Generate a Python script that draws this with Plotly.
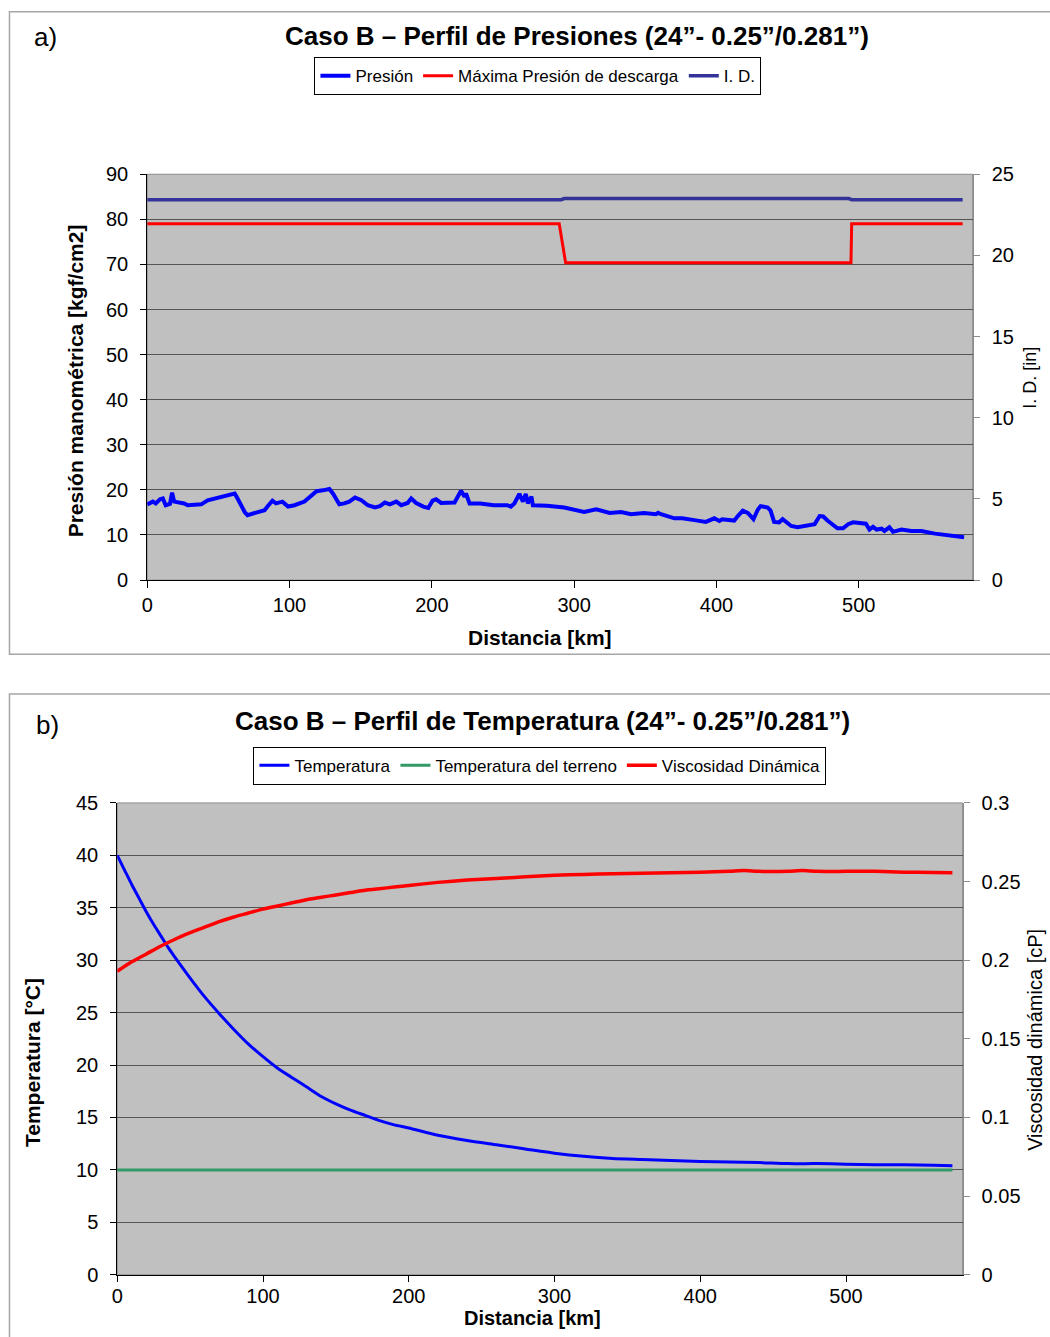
import plotly.graph_objects as go

# ---------------- Panel a) pressure profile ----------------
press_km = [0, 4, 6, 9, 11, 13, 16, 17.5, 19, 26, 28.5, 38, 42.5, 49.5, 59, 61.5, 63.5, 66, 68.5, 70.5,
            75.5, 82.5, 84.5, 86, 88, 90.5, 95, 99, 103.5, 110.5, 114, 119, 123.5, 128, 130.5, 135,
            138.5, 142, 146, 150.5, 155, 160, 163.5, 167, 170.5, 175, 178.5, 183, 185.5, 189, 194,
            197.5, 200.5, 203, 206.5, 216, 220.5, 223, 224, 226.5, 234, 243.5, 253, 255.5, 258,
            261.5, 264, 266, 267.5, 270, 271, 281, 293, 300, 307, 315.5, 325, 333, 340, 349, 357.5,
            359, 361, 370.5, 376, 384.5, 392.5, 398.5, 402, 404, 412.5, 415, 418.5, 422, 426, 429,
            431, 436, 438, 440.5, 444, 446.5, 452.5, 457, 464, 469, 472.5, 475, 478, 485, 489, 492.5,
            496, 505, 507.5, 510, 512.5, 516, 518, 521.5, 524, 530, 537, 544, 553.5, 563, 574]
press_val = [16.8, 17.4, 17.0, 17.9, 18.1, 16.6, 16.9, 19.4, 17.4, 17.0, 16.6, 16.8, 17.7, 18.3, 18.9,
             19.2, 18.1, 16.6, 15.1, 14.4, 14.9, 15.5, 16.3, 17.0, 17.6, 17.0, 17.4, 16.3, 16.6, 17.4,
             18.3, 19.7, 19.9, 20.2, 19.2, 16.8, 17.0, 17.4, 18.3, 17.7, 16.6, 16.1, 16.4, 17.2, 16.8,
             17.4, 16.6, 17.1, 18.1, 17.1, 16.3, 16.0, 17.6, 17.9, 17.1, 17.2, 19.8, 18.5, 19.2, 17.0,
             17.0, 16.6, 16.6, 16.3, 17.0, 19.1, 17.4, 19.1, 17.0, 18.5, 16.6, 16.5, 16.1, 15.7, 15.1,
             15.7, 14.9, 15.1, 14.6, 14.9, 14.6, 14.9, 14.6, 13.7, 13.7, 13.3, 12.9, 13.7, 13.1, 13.5,
             13.2, 14.2, 15.4, 14.9, 13.5, 15.6, 16.4, 16.1, 15.4, 12.9, 12.8, 13.5, 12.0, 11.7, 12.0,
             12.4, 14.2, 14.1, 13.2, 11.5, 11.5, 12.4, 12.8, 12.5, 11.2, 11.8, 11.2, 11.4, 10.9, 11.7,
             10.7, 11.2, 10.9, 10.9, 10.3, 9.9, 9.5]

maop_km = [0, 289.5, 294, 494.5, 495, 573]
maop_val = [79.0, 79.0, 70.4, 70.4, 79.0, 79.0]

id_km = [0, 291, 293, 493, 495, 573]
id_val = [23.438, 23.438, 23.5, 23.5, 23.438, 23.438]

# ---------------- Panel b) temperature profile ----------------
temp_km = [0, 5, 10, 15, 20, 25, 30, 35, 40, 50, 60, 70, 80, 90, 100, 110, 120, 130, 140, 150, 160,
           170, 180, 190, 200, 220, 240, 260, 280, 300, 320, 340, 360, 380, 400, 420, 440, 460, 480,
           500, 520, 540, 560, 573]
temp_val = [40.0, 38.6, 37.2, 35.9, 34.6, 33.4, 32.3, 31.2, 30.2, 28.3, 26.5, 24.9, 23.4, 22.0, 20.8,
            19.7, 18.8, 17.9, 17.0, 16.3, 15.7, 15.2, 14.7, 14.3, 14.0, 13.3, 12.8, 12.4, 12.0, 11.6,
            11.3, 11.1, 11.0, 10.9, 10.8, 10.75, 10.7, 10.6, 10.6, 10.55, 10.5, 10.5, 10.45, 10.4]

ground_km = [0, 573]
ground_val = [10.0, 10.0]

visc_km = [0, 10, 20, 30, 40, 50, 60, 70, 80, 90, 100, 110, 120, 130, 140, 150, 160, 170, 180, 190,
           200, 220, 240, 260, 280, 300, 320, 340, 360, 380, 400, 420, 430, 440, 460, 470, 480, 500,
           520, 540, 560, 573]
visc_val = [0.193, 0.199, 0.204, 0.209, 0.2135, 0.2175, 0.221, 0.2245, 0.2275, 0.230, 0.2325, 0.2345,
            0.2365, 0.2385, 0.240, 0.2415, 0.243, 0.2445, 0.2455, 0.2465, 0.2475, 0.2495, 0.251,
            0.252, 0.253, 0.254, 0.2545, 0.255, 0.2553, 0.2556, 0.256, 0.2565, 0.257, 0.2565, 0.2565,
            0.257, 0.2565, 0.2565, 0.2565, 0.256, 0.2558, 0.2556]

W, H = 1050, 1337
FONT = "Liberation Sans, Arial, sans-serif"


def px_x(p):
    """Figure pixel (from left) -> paper fraction."""
    return p / W


def px_y(p):
    """Figure pixel (from top) -> paper fraction."""
    return 1 - p / H


fig = go.Figure()

# panel a traces
fig.add_trace(go.Scatter(x=press_km, y=press_val, mode="lines", name="Presión",
                         line=dict(color="#0000FF", width=4), xaxis="x", yaxis="y", legend="legend"))
fig.add_trace(go.Scatter(x=maop_km, y=maop_val, mode="lines", name="Máxima Presión de descarga",
                         line=dict(color="#FF0000", width=3), xaxis="x", yaxis="y", legend="legend"))
fig.add_trace(go.Scatter(x=id_km, y=id_val, mode="lines", name="I. D.",
                         line=dict(color="#333399", width=3.5), xaxis="x", yaxis="y2", legend="legend"))

# panel b traces
fig.add_trace(go.Scatter(x=temp_km, y=temp_val, mode="lines", name="Temperatura",
                         line=dict(color="#0000FF", width=3, shape="spline", smoothing=0.6),
                         xaxis="x2", yaxis="y3", legend="legend2"))
fig.add_trace(go.Scatter(x=ground_km, y=ground_val, mode="lines", name="Temperatura del terreno",
                         line=dict(color="#339966", width=3), xaxis="x2", yaxis="y3", legend="legend2"))
fig.add_trace(go.Scatter(x=visc_km, y=visc_val, mode="lines", name="Viscosidad Dinámica",
                         line=dict(color="#FF0000", width=3.5, shape="spline", smoothing=0.6),
                         xaxis="x2", yaxis="y4", legend="legend2"))

tickfont = dict(family=FONT, size=20, color="#000000")
grid = "#555555"

common_x = dict(showgrid=False, zeroline=False, showline=True, linecolor="#000000", linewidth=1,
                ticks="outside", ticklen=7, tickcolor="#000000", tickfont=tickfont,
                tickmode="array", tickvals=[0, 100, 200, 300, 400, 500], ticklabelstandoff=0)
left_y = dict(showgrid=True, gridcolor=grid, gridwidth=1, zeroline=False, showline=True,
              linecolor="#000000", linewidth=1, ticks="outside", ticklen=6, tickcolor="#000000",
              tickfont=tickfont, ticklabelstandoff=8)
right_y = dict(showgrid=False, zeroline=False, showline=True, linecolor="#8c8c8c", linewidth=1,
               ticks="outside", ticklen=6, tickcolor="#8c8c8c", tickfont=tickfont,
               ticklabelstandoff=8, side="right")

# plot-area boxes in figure pixels
TOP_BOX = dict(left=142.0, right=972.2, top=166.0, bottom=578.6)
BOT_BOX = dict(left=111.9, right=962.1, top=805.2, bottom=1284.9)

legend_font = dict(family=FONT, size=17, color="#000000")

fig.update_layout(
    width=W, height=H, autosize=False,
    margin=dict(l=0, r=0, t=0, b=0),
    paper_bgcolor="#FFFFFF", plot_bgcolor="#C0C0C0",
    font=dict(family=FONT, color="#000000"),
    xaxis=dict(common_x, domain=[px_x(TOP_BOX["left"]), px_x(TOP_BOX["right"])],
               range=[0, 580], anchor="y"),
    yaxis=dict(left_y, domain=[px_y(TOP_BOX["bottom"]), px_y(TOP_BOX["top"])],
               range=[0, 90], dtick=10, anchor="x"),
    yaxis2=dict(right_y, overlaying="y", range=[0, 25], dtick=5, anchor="x"),
    xaxis2=dict(common_x, domain=[px_x(BOT_BOX["left"]), px_x(BOT_BOX["right"])],
                range=[0, 580], anchor="y3", ticklen=6, ticklabelstandoff=-3),
    yaxis3=dict(left_y, domain=[px_y(BOT_BOX["bottom"]), px_y(BOT_BOX["top"])],
                range=[0, 45], dtick=5, anchor="x2"),
    yaxis4=dict(right_y, overlaying="y3", range=[0, 0.3], dtick=0.05, anchor="x2"),
    legend=dict(orientation="h", x=px_x(535), xanchor="center", y=px_y(47), yanchor="top",
                bgcolor="#FFFFFF", bordercolor="#000000", borderwidth=1,
                font=legend_font, itemwidth=30),
    legend2=dict(orientation="h", x=px_x(537), xanchor="center", y=px_y(748), yanchor="top",
                 bgcolor="#FFFFFF", bordercolor="#000000", borderwidth=1,
                 font=legend_font, itemwidth=30),
)

# panel frames and plot-area borders
shapes = [
    dict(type="rect", xref="paper", yref="paper", x0=px_x(3.5), x1=1.05, y0=px_y(654), y1=px_y(0.8),
         line=dict(color="#a6a6a6", width=1.5), fillcolor="rgba(0,0,0,0)", layer="below"),
    dict(type="rect", xref="paper", yref="paper", x0=px_x(3.5), x1=1.05, y0=-0.05, y1=px_y(694.5),
         line=dict(color="#a6a6a6", width=1.5), fillcolor="rgba(0,0,0,0)", layer="below"),
    dict(type="rect", xref="x domain", yref="y domain", x0=0, x1=1, y0=0, y1=1,
         line=dict(color="#8c8c8c", width=1), fillcolor="rgba(0,0,0,0)", layer="below"),
    dict(type="rect", xref="x2 domain", yref="y3 domain", x0=0, x1=1, y0=0, y1=1,
         line=dict(color="#8c8c8c", width=1), fillcolor="rgba(0,0,0,0)", layer="below"),
]
fig.update_layout(shapes=shapes)


def label(text, x, y, size, bold=False, angle=0, xanchor="center"):
    t = f"<b>{text}</b>" if bold else text
    return dict(text=t, x=px_x(x), y=px_y(y), xref="paper", yref="paper", showarrow=False,
                xanchor=xanchor, yanchor="middle", textangle=angle,
                font=dict(family=FONT, size=size, color="#000000"))


annotations = [
    label("a)", 26.4, 26.7, 26, xanchor="left"),
    label("Caso B – Perfil de Presiones (24”- 0.25”/0.281”)", 574.2, 25.7, 26, bold=True),
    label("Presión manométrica [kgf/cm2]", 69.6, 376.3, 21, bold=True, angle=-90),
    label("I. D. [in]", 1030.5, 373.3, 18, angle=-90),
    label("Distancia [km]", 537.0, 636.5, 21, bold=True),
    label("b)", 28.4, 725.9, 26, xanchor="left"),
    label("Caso B – Perfil de Temperatura (24”- 0.25”/0.281”)", 540.0, 721.8, 26, bold=True),
    label("Temperatura [°C]", 27.4, 1069.4, 21, bold=True, angle=-90),
    label("Viscosidad dinámica [cP]", 1035.0, 1046.0, 20, angle=-90),
    label("Distancia [km]", 530.0, 1328.5, 20, bold=True),
]
fig.update_layout(annotations=annotations)

fig.write_html("out.html")
